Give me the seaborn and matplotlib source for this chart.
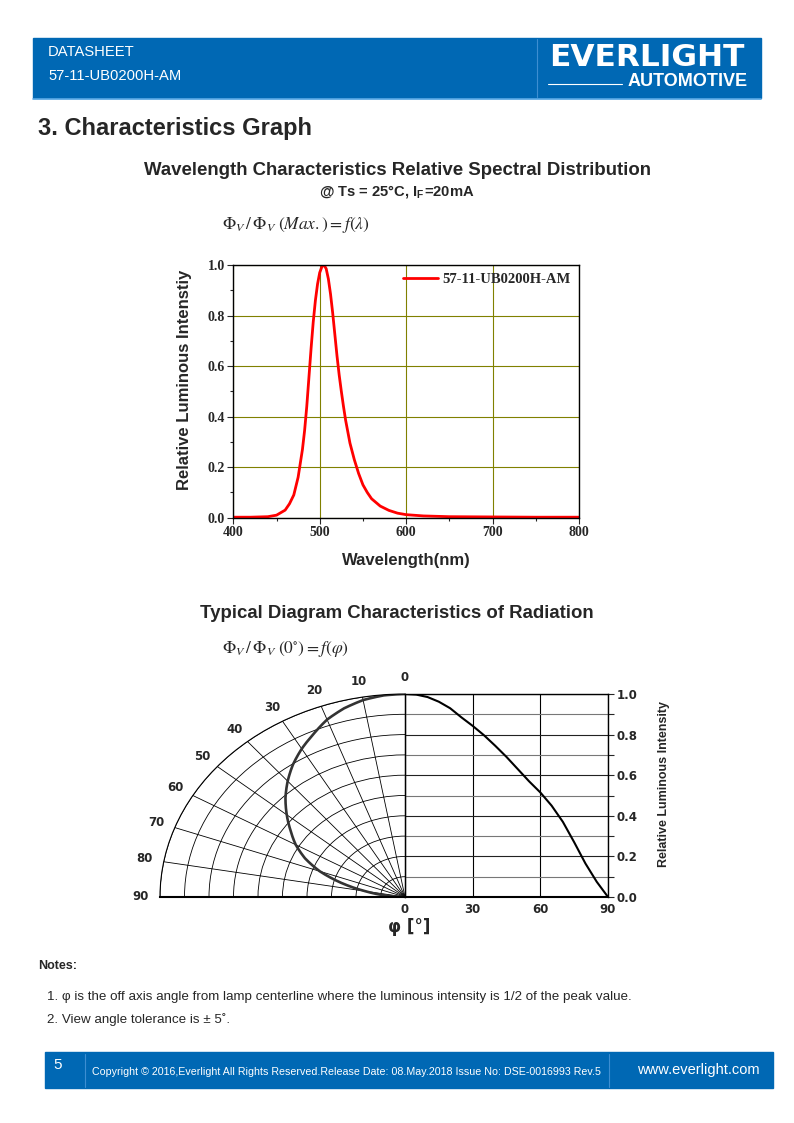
import numpy as np
import matplotlib
matplotlib.use("Agg")
import matplotlib.pyplot as plt
import seaborn as sns
from matplotlib.patches import Rectangle
from matplotlib.lines import Line2D

# ---------------- data ----------------
wavelength_nm = [400, 420, 440, 450, 460, 465, 470, 475, 480, 482.5, 485, 487.5, 490,
                 492.5, 495, 497.5, 500, 502.5, 505, 507.5, 510, 512.5, 515, 517.5,
                 520, 522.5, 525, 527.5, 530, 535, 540, 545, 550, 555, 560, 570, 580,
                 590, 600, 620, 650, 700, 750, 800]
relative_intensity = [0.002, 0.002, 0.004, 0.010, 0.030, 0.055, 0.090, 0.160, 0.270,
                      0.345, 0.440, 0.555, 0.670, 0.775, 0.860, 0.925, 0.970, 0.993,
                      1.000, 0.985, 0.945, 0.885, 0.810, 0.725, 0.640, 0.565, 0.500,
                      0.440, 0.385, 0.295, 0.230, 0.175, 0.130, 0.100, 0.075, 0.046,
                      0.029, 0.018, 0.012, 0.007, 0.004, 0.003, 0.002, 0.002]
spectral_xticks = [400, 500, 600, 700, 800]
spectral_xminor = [450, 550, 650, 750]
spectral_yticks = [0.0, 0.2, 0.4, 0.6, 0.8, 1.0]
spectral_yminor = [0.1, 0.3, 0.5, 0.7, 0.9]
series_name = "57-11-UB0200H-AM"

angle_deg = [0, 5, 10, 15, 20, 25, 30, 35, 40, 45, 50, 55, 60, 65, 70, 75, 80, 85, 90]
radiation_intensity = [1.0, 0.997, 0.985, 0.962, 0.930, 0.885, 0.843, 0.797, 0.745,
                       0.690, 0.630, 0.570, 0.515, 0.450, 0.370, 0.270, 0.165, 0.075, 0.0]
polar_angle_labels = [0, 10, 20, 30, 40, 50, 60, 70, 80, 90]
polar_rings = [0.1, 0.2, 0.3, 0.4, 0.5, 0.6, 0.7, 0.8, 0.9, 1.0]
angle_ticks = [0, 30, 60, 90]
radiation_yticks = [0.0, 0.2, 0.4, 0.6, 0.8, 1.0]
radiation_yminor = [0.1, 0.3, 0.5, 0.7, 0.9]

# ---------------- style ----------------
sns.set_style("ticks")
plt.rcParams['font.family'] = ['Liberation Sans', 'DejaVu Sans']
plt.rcParams['mathtext.fontset'] = 'stix'

W, H = 794, 1123
fig = plt.figure(figsize=(W / 100, H / 100), dpi=100)


def fx(px):
    return px / W


def fy(py):
    return 1 - py / H


def box(l, t, r, b):
    return [fx(l), fy(b), (r - l) / W, (b - t) / H]


def ftext(x, y, s, **kw):
    kw.setdefault('ha', 'left')
    kw.setdefault('va', 'center')
    fig.text(fx(x), fy(y), s, **kw)


BLUE = '#0068B4'

# ---------------- header ----------------
fig.add_artist(Rectangle((fx(33), fy(98)), (761 - 33) / W, 60 / H,
                         transform=fig.transFigure, color=BLUE, zorder=0))
fig.add_artist(Line2D([fx(33), fx(761)], [fy(98.5), fy(98.5)], color='#5AA9E6', lw=1.2))
fig.add_artist(Line2D([fx(537), fx(537)], [fy(39), fy(97)], color='#3D8ED2', lw=0.8))
ftext(48, 52, "DATASHEET", color='white', fontsize=10.6)
ftext(48, 76, "57-11-UB0200H-AM", color='white', fontsize=10.6)
ftext(647, 57, "EVERLIGHT", color='white', fontsize=22.5, fontweight='bold',
      family='DejaVu Sans', ha='center')
fig.add_artist(Line2D([fx(548), fx(622)], [fy(84), fy(84)], color='white', lw=0.8))
ftext(748, 82, "AUTOMOTIVE", color='white', fontsize=13, fontweight='bold', ha='right')

# ---------------- section title ----------------
ftext(38, 128, "3. Characteristics Graph", fontsize=17, fontweight='bold')

# ---------------- spectral chart ----------------
ftext(397, 171, "Wavelength Characteristics Relative Spectral Distribution",
      fontsize=13.4, fontweight='bold', ha='center')
ftext(397, 191, r"@ Ts = 25°C, I$_\mathregular{F}$=20mA", fontsize=10.6,
      fontweight='bold', ha='center')
ftext(222, 225, r"$\Phi_V\,/\,\Phi_V\;(Max.) = f\left(\lambda\right)$", fontsize=12.5)

ax1 = fig.add_axes(box(233.3, 265, 579, 517.7))
sns.lineplot(x=wavelength_nm, y=relative_intensity, ax=ax1, color='#FF0000',
             lw=2.0, label=series_name)
ax1.set_xlim(400, 800)
ax1.set_ylim(0, 1.0)
ax1.set_xticks(spectral_xticks)
ax1.set_xticks(spectral_xminor, minor=True)
ax1.set_yticks(spectral_yticks)
ax1.set_yticks(spectral_yminor, minor=True)
ax1.set_xticklabels([str(v) for v in spectral_xticks])
ax1.set_yticklabels([f"{v:.1f}" for v in spectral_yticks])
ax1.grid(True, which='major', color='#808000', lw=0.8)
ax1.set_axisbelow(True)
for sp in ax1.spines.values():
    sp.set_visible(True)
    sp.set_color('black')
    sp.set_linewidth(1.0)
ax1.tick_params(which='major', direction='out', length=4, width=0.8, pad=2)
ax1.tick_params(which='minor', direction='out', length=2.5, width=0.8)
for lab in ax1.get_xticklabels() + ax1.get_yticklabels():
    lab.set_family('Liberation Serif')
    lab.set_fontweight('bold')
    lab.set_fontsize(10)
ax1.set_xlabel("")
ax1.set_ylabel("")
leg = ax1.legend(loc='upper right', frameon=False, handlelength=2.4,
                 borderaxespad=0.15, handletextpad=0.35,
                 prop=dict(family='Liberation Serif', weight='bold', size=10.5))
ftext(184, 380, "Relative Luminous Intenstiy", fontsize=12, fontweight='bold',
      rotation=90, ha='center')
ftext(406, 561, "Wavelength(nm)", fontsize=12, fontweight='bold', ha='center')

# ---------------- radiation diagram ----------------
ftext(397, 614, "Typical Diagram Characteristics of Radiation",
      fontsize=13.4, fontweight='bold', ha='center')
ftext(222, 649, r"$\Phi_V\,/\,\Phi_V\;(0^{\circ}) = f\left(\varphi\right)$", fontsize=12.5)

ax2 = fig.add_axes(box(160, 694, 405, 897), projection='polar')
ax2.set_theta_zero_location('N')
ax2.set_theta_direction(1)
ax2.set_thetamin(0)
ax2.set_thetamax(90)
ax2.set_aspect('auto')
sns.lineplot(x=np.deg2rad(angle_deg), y=radiation_intensity, ax=ax2,
             color='#333333', lw=1.9, sort=False, estimator=None)
for ln in ax2.get_lines():
    ln.get_path()._interpolation_steps = 20
ax2.set_ylim(0, 1.0)
ax2.set_yticks(polar_rings)
ax2.set_yticklabels([])
ax2.set_thetagrids(polar_angle_labels, labels=[""] * len(polar_angle_labels))
for a in polar_angle_labels:
    ax2.text(np.deg2rad(a), 1.08, str(a), ha='center', va='center', fontsize=8.5,
             fontweight='bold', family='DejaVu Sans', clip_on=False)
ax2.grid(True, color='black', lw=0.6)
ax2.set_xlabel("")
ax2.set_ylabel("")
for name, sp in ax2.spines.items():
    sp.set_color('black')
    sp.set_linewidth(0.8)
ax2.spines['end'].set_linewidth(1.5)

ax3 = fig.add_axes(box(405, 694, 608, 897))
sns.lineplot(x=angle_deg, y=radiation_intensity, ax=ax3, color='black', lw=1.5)
ax3.set_xlim(0, 90)
ax3.set_ylim(0, 1.0)
ax3.set_xticks(angle_ticks)
ax3.set_xticklabels([str(a) for a in angle_ticks])
ax3.yaxis.tick_right()
ax3.set_yticks(radiation_yticks)
ax3.set_yticks(radiation_yminor, minor=True)
ax3.set_yticklabels([f"{v:.1f}" for v in radiation_yticks])
ax3.grid(True, which='major', axis='y', color='#222222', lw=0.8)
ax3.grid(True, which='minor', axis='y', color='#777777', lw=0.8)
ax3.grid(True, which='major', axis='x', color='black', lw=0.8)
ax3.patch.set_alpha(0)
for name, sp in ax3.spines.items():
    sp.set_visible(True)
    sp.set_color('black')
    sp.set_linewidth(1.0)
ax3.spines['bottom'].set_linewidth(1.5)
ax3.tick_params(axis='x', length=0, pad=4)
ax3.tick_params(axis='y', which='major', direction='out', length=4, width=0.8, pad=2)
ax3.tick_params(axis='y', which='minor', direction='out', length=4, width=0.8)
for lab in ax3.get_xticklabels() + ax3.get_yticklabels():
    lab.set_family('DejaVu Sans')
    lab.set_fontweight('bold')
    lab.set_fontsize(8.5)
ax3.set_xlabel("")
ax3.set_ylabel("")
ftext(664, 784, "Relative Luminous Intensity", fontsize=9, fontweight='bold',
      rotation=90, ha='center')
ftext(409, 927, "φ [°]", fontsize=12, fontweight='bold', ha='center', family='DejaVu Sans')

# ---------------- notes ----------------
ftext(38, 966, "Notes:", fontsize=9, fontweight='bold')
ftext(47, 997, "1. φ is the off axis angle from lamp centerline where the luminous "
               "intensity is 1/2 of the peak value.", fontsize=9.6)
ftext(47, 1020, "2. View angle tolerance is ± 5˚.", fontsize=9.6)

# ---------------- footer ----------------
fig.add_artist(Rectangle((fx(45), fy(1088)), (773 - 45) / W, 36 / H,
                         transform=fig.transFigure, color=BLUE, zorder=0))
fig.add_artist(Line2D([fx(85), fx(85)], [fy(1054), fy(1087)], color='#3D8ED2', lw=0.8))
fig.add_artist(Line2D([fx(609), fx(609)], [fy(1054), fy(1087)], color='#3D8ED2', lw=0.8))
ftext(58, 1065, "5", color='white', fontsize=11, ha='center')
ftext(92, 1072, "Copyright © 2016,Everlight All Rights Reserved.Release Date: 08.May.2018 "
                "Issue No: DSE-0016993 Rev.5", color='white', fontsize=7.65)
ftext(698, 1070, "www.everlight.com", color='white', fontsize=10.5, ha='center')

fig.savefig("out.png", dpi=100)
